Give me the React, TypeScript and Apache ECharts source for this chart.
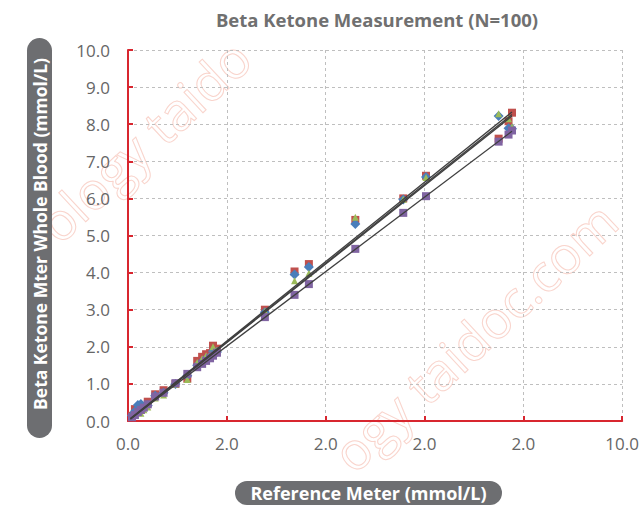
import React, { useEffect, useRef } from "react";
import * as echarts from "echarts";

// Reference meter values (mmol/L), shared by the four meter series
const reference = [0.08, 0.14, 0.2, 0.26, 0.32, 0.4, 0.55, 0.72, 0.96, 1.2, 1.4, 1.5, 1.58, 1.66, 1.72, 1.8, 2.77, 3.37, 3.66, 4.6, 5.57, 6.03, 7.5, 7.7, 7.77];

// Beta ketone meter readings per series (mmol/L)
const redValues = [0.14, 0.32, 0.26, 0.3, 0.4, 0.52, 0.72, 0.83, 1.0, 1.14, 1.62, 1.73, 1.8, 1.83, 2.03, 1.95, 3.0, 4.03, 4.23, 5.42, 6.0, 6.61, 7.61, 8.08, 8.31];
const blueValues = [0.15, 0.26, 0.43, 0.46, 0.38, 0.42, 0.68, 0.76, 1.0, 1.22, 1.5, 1.6, 1.68, 1.74, 1.88, 1.86, 2.93, 3.95, 4.15, 5.31, 5.97, 6.58, 8.22, 7.89, 7.88];
const greenValues = [0.12, 0.2, 0.22, 0.21, 0.3, 0.38, 0.62, 0.7, 1.0, 1.12, 1.58, 1.68, 1.76, 1.8, 2.0, 1.9, 2.96, 3.78, 3.98, 5.49, 5.98, 6.56, 8.28, 8.15, 7.93];
const purpleValues = [0.1, 0.16, 0.24, 0.3, 0.36, 0.45, 0.66, 0.76, 1.02, 1.27, 1.45, 1.54, 1.62, 1.69, 1.76, 1.84, 2.8, 3.4, 3.69, 4.64, 5.61, 6.06, 7.53, 7.72, 7.83];

// Trend line end points
const trendRed = [[0.05, 0.07], [7.77, 8.33]];
const trendBlue = [[0.05, 0.05], [7.77, 8.22]];
const trendGreen = [[0.05, 0.06], [7.77, 8.26]];
const trendPurple = [[0.05, 0.06], [7.77, 7.81]];

// Tick labels as printed on the original
const xTickLabels = ["0.0", "2.0", "2.0", "2.0", "2.0", "10.0"];

const FONT = "Open Sans";
const AXIS_RED = "#D8262F";
const PILL = "#6D6E71";
const WM = "#F9D4CC";

function pairs(xs: number[], ys: number[]) {
  return xs.map((x, i) => [x, ys[i]]);
}

export default function App() {
  const ref = useRef<HTMLDivElement>(null);
  useEffect(() => {
    document.body.style.margin = "0";
    if (!ref.current) return;
    const chart = echarts.init(ref.current, null, { renderer: "svg" });

    const scatter = (name: string, ys: number[], symbol: string, size: number, color: string, z: number) => ({
      name,
      type: "scatter",
      data: pairs(reference, ys),
      symbol,
      symbolSize: size,
      itemStyle: { color, opacity: 1 },
      z,
    });
    const trend = (data: number[][]) => ({
      type: "line",
      data,
      showSymbol: false,
      symbol: "none",
      lineStyle: { color: "#3F3F3F", width: 1.3 },
      z: 10,
      silent: true,
    });

    const wmText = (text: string, x: number, align: string) => ({
      type: "text",
      x,
      y: 0,
      style: {
        text,
        fontSize: 52,
        fontFamily: FONT,
        align,
        verticalAlign: "middle",
        fill: "rgba(255,255,255,0)",
        stroke: WM,
        lineWidth: 1,
      },
    });
    const watermark = (x: number, y: number, before: string, after: string) => ({
      type: "group",
      x,
      y,
      rotation: (43 * Math.PI) / 180,
      z: -10,
      silent: true,
      children: [wmText(after, 0, "left"), wmText(before, -14, "right")],
    });

    const option = {
      animation: false,
      title: {
        text: "Beta Ketone Measurement (N=100)",
        left: 372,
        top: 5,
        textAlign: "center",
        textStyle: { fontFamily: FONT, fontSize: 18.5, fontWeight: "bold", color: "#707070" },
      },
      grid: { left: 128, right: 15, top: 50, bottom: 87 },
      xAxis: {
        type: "value",
        min: 0,
        max: 10,
        interval: 2,
        axisLine: { show: true, onZero: false, lineStyle: { color: AXIS_RED, width: 2 } },
        axisTick: { show: true, inside: true, length: 5, lineStyle: { color: AXIS_RED, width: 2 } },
        axisLabel: {
          margin: 14,
          fontFamily: FONT,
          fontSize: 17,
          color: "#666666",
          formatter: (v: number, i: number) => xTickLabels[i] ?? v.toFixed(1),
        },
        splitLine: { show: true, showMinLine: false, lineStyle: { color: "#BFBFBF", type: [3, 3], width: 1 } },
      },
      yAxis: {
        type: "value",
        min: 0,
        max: 10,
        interval: 1,
        axisLine: { show: true, onZero: false, lineStyle: { color: AXIS_RED, width: 2 } },
        axisTick: { show: true, inside: true, length: 5, lineStyle: { color: AXIS_RED, width: 2 } },
        axisLabel: {
          margin: 18,
          fontFamily: FONT,
          fontSize: 17,
          color: "#666666",
          formatter: (v: number) => v.toFixed(1),
        },
        splitLine: { show: true, showMinLine: false, lineStyle: { color: "#BFBFBF", type: [3, 3], width: 1 } },
      },
      series: [
        scatter("Meter A", redValues, "rect", 8, "#C0504D", 3),
        scatter("Meter B", blueValues, "diamond", 10, "#4A7EBB", 4),
        scatter("Meter C", greenValues, "triangle", 7, "#9BBB59", 5),
        scatter("Meter D", purpleValues, "rect", 8, "#8064A2", 6),
        trend(trendRed),
        trend(trendBlue),
        trend(trendGreen),
        trend(trendPurple),
      ],
      graphic: [
        watermark(151, 133, "ology", "taido"),
        watermark(413, 393, "ogy", "taidoc.com"),
        {
          type: "group",
          x: 368.5,
          y: 493,
          children: [
            { type: "rect", shape: { x: -133.5, y: -12, width: 267, height: 24, r: 12 }, style: { fill: PILL } },
            {
              type: "text",
              x: 0,
              y: 0,
              style: {
                text: "Reference Meter (mmol/L)",
                fontFamily: FONT,
                fontSize: 18,
                fontWeight: "bold",
                fill: "#FFFFFF",
                align: "center",
                verticalAlign: "middle",
              },
            },
          ],
        },
        {
          type: "group",
          x: 39.5,
          y: 238,
          rotation: Math.PI / 2,
          children: [
            { type: "rect", shape: { x: -200, y: -12.5, width: 400, height: 25, r: 12.5 }, style: { fill: PILL } },
            {
              type: "text",
              x: 4,
              y: 0,
              style: {
                text: "Beta Ketone Mter Whole Blood (mmol/L)",
                fontFamily: FONT,
                fontSize: 17.5,
                fontWeight: "bold",
                fill: "#FFFFFF",
                align: "center",
                verticalAlign: "middle",
              },
            },
          ],
        },
      ],
    };
    chart.setOption(option as any);
    return () => chart.dispose();
  }, []);
  return <div ref={ref} style={{ width: 642, height: 508 }} />;
}
